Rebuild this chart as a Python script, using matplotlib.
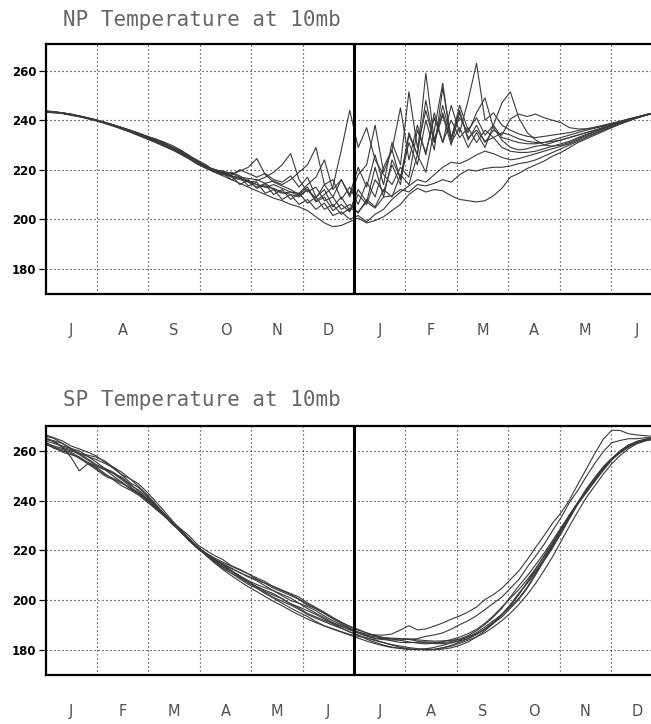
import matplotlib
matplotlib.use("Agg")
import matplotlib.pyplot as plt

# 5-day samples, year drawn as twelve equal months of 365/12 days
days = list(range(0, 365, 5))

np_months = ["J", "A", "S", "O", "N", "D", "J", "F", "M", "A", "M", "J"]
sp_months = ["J", "F", "M", "A", "M", "J", "J", "A", "S", "O", "N", "D"]
temp_ticks = [180, 200, 220, 240, 260]

# North Pole 10mb temperature (K), one list per year, starting 1 July
np_a = [243.8, 243.5, 243.0, 242.4, 241.6, 240.8, 240.0, 239.0, 238.1, 237.0, 235.8, 234.5, 233.2, 231.8, 230.5, 229.0, 227.3, 225.3, 223.2, 221.4,
        219.5, 218.5, 217.0, 216.0, 215.5, 214.0, 213.0, 212.5, 211.0, 210.0, 209.0, 212.0, 207.5, 210.0, 213.0, 228.0, 244.0, 229.0, 237.0, 224.0,
        218.0, 214.0, 221.0, 217.0, 236.0, 227.0, 241.0, 231.0, 240.0, 233.0, 237.0, 231.0, 236.0, 233.0, 235.0, 234.0, 232.5, 231.5, 231.0, 231.0,
        231.5, 232.0, 233.0, 234.0, 235.0, 236.0, 237.0, 238.0, 239.0, 240.0, 241.0, 242.0, 242.8]
np_b = [243.2, 243.0, 242.7, 242.0, 241.4, 240.6, 239.7, 238.7, 237.6, 236.4, 235.2, 233.8, 232.4, 231.0, 229.5, 228.0, 226.2, 224.3, 222.2, 220.5,
        219.0, 217.5, 216.0, 214.5, 213.0, 211.5, 210.0, 208.5, 207.5, 206.0, 205.0, 203.5, 201.0, 198.5, 197.0, 197.5, 199.0, 200.5, 198.5, 199.5,
        201.0, 203.5, 206.0, 210.0, 212.5, 211.0, 212.0, 211.5, 209.5, 208.0, 207.5, 207.0, 207.5, 209.5, 212.5, 217.0, 218.5, 220.5, 222.0, 223.5,
        225.5, 227.0, 229.0, 231.0, 232.5, 234.0, 235.5, 237.0, 238.5, 239.8, 241.0, 242.0, 243.0]
np_c = [243.6, 243.4, 242.9, 242.3, 241.6, 240.9, 240.1, 239.1, 238.0, 236.8, 235.5, 234.5, 233.5, 232.5, 231.0, 229.0, 227.2, 225.5, 223.3, 221.6,
        220.0, 219.0, 218.0, 219.5, 221.0, 224.5, 218.0, 215.0, 213.5, 212.0, 210.0, 213.0, 207.0, 209.0, 203.5, 206.0, 203.0, 210.0, 206.0, 216.0,
        211.0, 222.0, 214.0, 235.0, 226.0, 259.0, 232.0, 243.0, 232.0, 246.0, 236.0, 241.0, 234.0, 238.0, 233.0, 232.0, 231.0, 230.5, 230.5, 231.0,
        232.0, 233.0, 234.0, 235.0, 236.0, 236.8, 237.5, 238.5, 239.5, 240.5, 241.3, 242.2, 243.0]
np_d = [243.4, 243.2, 242.8, 242.3, 241.7, 240.9, 240.1, 239.2, 238.2, 237.1, 236.0, 234.7, 233.2, 231.6, 230.0, 228.5, 226.8, 224.8, 222.8, 221.2,
        219.8, 219.5, 218.5, 217.0, 216.5, 216.0, 214.5, 215.5, 214.0, 216.0, 219.0, 222.0, 229.0, 214.0, 216.0, 208.0, 213.0, 206.0, 215.0, 209.0,
        221.0, 228.0, 245.0, 224.0, 238.0, 226.0, 243.0, 231.0, 246.0, 235.0, 248.0, 263.0, 240.0, 243.0, 238.0, 236.0, 234.5, 233.5, 233.0, 233.5,
        234.0, 234.5, 235.0, 235.8, 236.5, 237.2, 238.0, 238.8, 239.6, 240.5, 241.3, 242.2, 243.0]
np_e = [243.7, 243.4, 243.0, 242.5, 241.8, 241.0, 240.2, 239.2, 238.0, 236.7, 235.4, 234.0, 232.8, 231.5, 230.3, 229.0, 227.6, 225.6, 223.6, 221.3,
        219.2, 218.0, 219.0, 217.5, 215.5, 214.0, 213.0, 214.0, 212.5, 211.0, 210.5, 214.0, 217.0, 224.0, 212.0, 216.0, 209.0, 218.0, 222.0, 238.0,
        219.0, 228.0, 216.0, 231.0, 222.0, 240.0, 228.0, 253.0, 233.0, 244.0, 232.0, 238.0, 231.0, 236.0, 234.0, 240.5, 242.5, 241.5, 242.5, 241.0,
        240.0, 239.0, 237.0, 236.5, 236.5, 237.0, 237.8, 238.6, 239.5, 240.4, 241.3, 242.2, 242.9]
np_f = [243.3, 243.1, 242.8, 242.2, 241.5, 240.7, 239.9, 238.9, 237.9, 236.9, 235.8, 234.6, 233.2, 232.3, 230.8, 229.0, 227.0, 224.8, 222.5, 221.0,
        220.2, 219.0, 217.5, 216.5, 215.0, 215.5, 217.0, 219.0, 222.0, 226.5, 216.0, 211.0, 213.0, 207.5, 209.0, 204.0, 206.0, 202.5, 208.0, 205.0,
        212.0, 209.0, 218.0, 214.0, 226.0, 219.0, 236.0, 255.0, 231.0, 237.0, 229.0, 235.0, 229.0, 238.0, 247.0, 251.5, 241.0, 235.0, 232.0, 230.0,
        229.5, 230.0, 231.0, 232.5, 234.0, 235.3, 236.5, 237.8, 239.0, 240.2, 241.2, 242.1, 243.0]
np_g = [243.5, 243.3, 242.9, 242.3, 241.6, 240.8, 240.0, 239.0, 238.0, 236.9, 235.6, 234.2, 232.8, 231.3, 229.8, 228.2, 226.5, 224.5, 222.4, 220.8,
        219.4, 218.0, 217.5, 214.0, 216.0, 212.5, 214.0, 210.0, 212.0, 208.0, 210.5, 206.5, 209.0, 204.0, 206.0, 202.0, 204.5, 203.0, 207.0, 204.5,
        209.0, 209.5, 212.0, 211.0, 214.0, 213.5, 214.5, 216.0, 215.0, 218.0, 220.0, 219.5, 220.5, 221.0, 221.0, 221.5, 222.5, 223.0, 224.0, 225.5,
        227.0, 228.5, 230.0, 231.5, 233.0, 234.5, 236.0, 237.3, 238.6, 239.8, 241.0, 242.0, 242.9]
np_h = [243.5, 243.3, 243.0, 242.4, 241.7, 240.9, 240.0, 239.1, 238.1, 237.0, 235.8, 234.6, 233.4, 232.4, 231.2, 229.8, 228.0, 225.8, 223.5, 221.5,
        219.6, 218.8, 217.5, 216.8, 215.0, 213.0, 214.5, 212.0, 210.5, 211.0, 209.5, 212.0, 208.5, 214.0, 209.0, 216.0, 210.0, 221.0, 213.0, 226.0,
        214.0, 231.0, 222.0, 251.5, 229.0, 244.0, 231.0, 246.0, 233.0, 241.0, 235.0, 243.0, 249.0, 237.0, 232.0, 229.0, 228.0, 228.5, 229.5, 230.0,
        231.0, 232.0, 233.0, 234.0, 235.0, 236.0, 237.0, 238.2, 239.3, 240.3, 241.3, 242.2, 243.1]
np_i = [243.4, 243.2, 242.8, 242.2, 241.5, 240.8, 240.0, 239.0, 237.9, 236.7, 235.5, 234.1, 232.7, 231.2, 229.7, 228.2, 226.6, 224.6, 222.6, 220.8,
        219.0, 218.5, 216.0, 217.0, 213.5, 215.0, 210.5, 212.0, 208.0, 210.0, 206.0, 208.0, 204.0, 206.5, 201.5, 203.0, 200.0, 201.5, 199.0, 202.0,
        204.0, 208.0, 211.0, 213.5, 216.0, 215.0, 218.0, 221.0, 223.0, 222.5, 224.0, 226.0, 227.5, 226.5, 225.0, 224.0, 224.5, 225.5, 226.5, 227.5,
        228.5, 229.5, 230.5, 232.0, 233.5, 234.8, 236.0, 237.2, 238.5, 239.7, 240.9, 242.0, 242.8]
np_j = [243.6, 243.3, 242.9, 242.3, 241.6, 240.8, 240.0, 239.1, 238.1, 237.1, 236.0, 234.9, 233.6, 232.1, 230.6, 229.2, 227.5, 225.6, 223.8, 222.0,
        219.4, 219.2, 218.0, 220.0, 218.5, 217.0, 218.5, 216.0, 215.0, 217.5, 213.0, 217.0, 209.0, 212.0, 205.0, 209.0, 203.5, 212.0, 207.0, 221.0,
        209.0, 224.0, 217.0, 234.0, 226.0, 248.0, 231.0, 242.0, 230.0, 243.0, 233.0, 236.0, 231.5, 233.0, 229.0, 227.5, 227.0, 227.0, 227.5, 228.5,
        229.5, 230.5, 231.5, 233.0, 234.3, 235.5, 236.7, 237.8, 239.0, 240.0, 241.1, 242.1, 243.0]

# South Pole 10mb temperature (K), one list per year, starting 1 January
sp_a = [266.5, 265.3, 264.0, 262.0, 260.8, 259.5, 258.0, 255.5, 253.0, 250.5, 248.8, 246.8, 243.5, 239.8, 236.0, 232.0, 228.2, 224.9, 221.3, 218.8,
        216.5, 214.8, 212.9, 211.1, 209.4, 207.8, 205.8, 203.8, 202.4, 200.9, 198.8, 196.7, 194.8, 193.0, 191.1, 189.7, 188.1, 186.8, 185.6, 184.6,
        184.2, 184.0, 184.1, 184.3, 183.6, 183.0, 182.6, 182.6, 182.9, 183.7, 184.6, 186.3, 188.5, 190.8, 193.3, 196.8, 200.3, 204.8, 210.3, 216.0,
        221.5, 226.7, 232.8, 238.7, 243.5, 248.0, 252.7, 256.5, 259.7, 262.2, 263.9, 264.8, 265.4]
sp_b = [265.0, 264.0, 261.5, 257.5, 252.0, 254.8, 253.5, 251.0, 248.5, 246.0, 244.3, 242.3, 239.5, 236.8, 234.0, 231.0, 228.0, 224.4, 221.0, 218.0,
        215.2, 212.8, 210.9, 209.1, 207.1, 205.0, 203.0, 201.1, 199.6, 198.1, 196.3, 194.3, 192.8, 191.4, 190.0, 188.7, 187.3, 186.0, 184.4, 183.1,
        182.0, 181.2, 180.6, 180.3, 180.3, 180.0, 180.3, 180.9, 181.9, 183.2, 184.6, 186.3, 188.5, 191.3, 194.3, 198.0, 202.3, 207.1, 211.8, 216.5,
        222.0, 228.2, 234.3, 239.5, 244.3, 248.5, 252.9, 256.8, 260.0, 261.9, 263.2, 264.3, 265.0]
sp_c = [263.0, 262.0, 261.0, 260.0, 259.0, 257.8, 256.5, 255.0, 253.5, 250.5, 247.3, 245.3, 242.0, 238.3, 235.0, 231.0, 227.4, 223.9, 220.8, 218.2,
        216.0, 214.3, 212.7, 211.1, 209.6, 208.3, 206.8, 204.8, 203.4, 201.9, 200.3, 198.0, 196.6, 194.7, 192.6, 190.7, 188.8, 187.3, 186.4, 186.1,
        186.0, 186.5, 188.1, 189.8, 188.1, 188.5, 189.6, 190.9, 192.4, 193.7, 195.3, 197.3, 200.3, 202.3, 204.8, 208.3, 211.8, 216.3, 221.3, 226.0,
        231.0, 235.2, 240.3, 246.7, 252.8, 259.0, 264.7, 268.3, 268.2, 266.9, 266.4, 266.1, 265.8]
sp_d = [264.5, 264.0, 263.0, 261.0, 259.0, 258.3, 257.5, 256.0, 253.5, 251.5, 248.8, 245.8, 242.5, 238.8, 235.0, 231.5, 227.7, 223.9, 220.8, 218.5,
        216.3, 214.3, 212.0, 209.6, 207.9, 206.3, 205.0, 203.8, 201.8, 199.9, 198.8, 197.5, 195.8, 193.7, 191.8, 190.2, 188.6, 187.1, 185.9, 184.8,
        184.5, 184.5, 184.6, 184.3, 184.6, 185.5, 186.1, 186.9, 188.4, 190.2, 191.8, 193.8, 196.3, 198.8, 201.3, 204.8, 208.3, 213.3, 217.8, 222.5,
        228.0, 233.2, 239.3, 244.2, 249.8, 255.0, 259.7, 263.3, 264.2, 264.9, 264.9, 265.3, 265.3]
sp_e = [263.0, 261.0, 260.0, 259.0, 257.0, 254.8, 252.5, 250.0, 248.5, 247.0, 245.3, 243.3, 241.0, 238.3, 234.8, 231.0, 227.4, 224.4, 221.6, 218.5,
        215.7, 213.3, 210.9, 208.6, 206.4, 204.8, 202.7, 200.8, 198.8, 196.9, 195.1, 193.5, 191.5, 189.7, 188.4, 187.2, 186.0, 184.8, 183.6, 182.6,
        181.7, 181.0, 180.8, 180.3, 180.3, 180.5, 180.3, 180.9, 181.6, 182.7, 184.0, 185.3, 187.0, 189.3, 191.8, 194.8, 198.3, 202.3, 206.8, 212.0,
        217.5, 223.7, 229.8, 235.7, 241.3, 246.0, 250.7, 254.8, 258.2, 260.9, 262.9, 264.0, 264.8]
sp_f = [264.0, 263.0, 262.0, 261.0, 260.0, 257.8, 255.5, 253.0, 251.0, 249.5, 246.8, 243.8, 240.5, 237.3, 234.5, 231.3, 228.2, 224.7, 221.3, 219.0,
        217.0, 215.3, 213.7, 212.1, 210.6, 209.0, 207.5, 205.3, 203.9, 202.4, 200.5, 198.5, 196.6, 194.7, 192.9, 191.2, 189.3, 188.0, 186.9, 185.9,
        185.0, 184.5, 183.9, 183.3, 182.8, 182.5, 182.8, 183.4, 184.2, 185.2, 186.6, 188.3, 190.8, 193.8, 197.3, 200.8, 204.3, 208.3, 212.8, 217.5,
        222.5, 227.7, 233.5, 239.2, 244.3, 249.3, 253.7, 257.1, 259.7, 261.6, 263.4, 264.5, 264.8]
sp_g = [265.5, 263.5, 261.5, 260.5, 258.5, 256.3, 254.0, 252.5, 251.0, 248.5, 245.8, 242.8, 240.0, 237.3, 234.5, 231.5, 228.7, 225.9, 222.3, 220.0,
        218.0, 216.3, 213.9, 212.4, 210.6, 208.4, 206.8, 205.6, 204.1, 202.7, 201.3, 199.0, 197.1, 195.2, 193.1, 191.2, 189.6, 188.3, 186.9, 185.6,
        184.5, 183.7, 183.1, 183.0, 183.1, 183.3, 183.1, 183.1, 183.4, 184.4, 185.8, 187.8, 190.3, 193.3, 196.8, 201.3, 205.8, 209.8, 214.3, 219.0,
        224.0, 229.2, 234.3, 239.2, 243.8, 248.2, 252.7, 256.8, 260.0, 262.4, 263.7, 264.3, 265.0]
sp_h = [263.5, 261.5, 259.5, 258.5, 257.5, 255.3, 253.0, 250.5, 249.0, 247.5, 244.8, 242.8, 240.5, 237.8, 234.2, 230.5, 227.7, 224.7, 221.3, 218.0,
        215.0, 212.3, 209.9, 207.6, 205.4, 203.5, 201.5, 199.5, 197.8, 195.9, 194.1, 192.5, 191.0, 189.7, 188.6, 187.4, 186.3, 185.5, 184.9, 184.1,
        183.0, 182.0, 181.1, 180.5, 180.1, 180.5, 181.1, 181.9, 182.9, 183.9, 185.3, 187.0, 189.3, 191.8, 194.3, 197.3, 200.8, 205.3, 210.8, 216.5,
        222.5, 228.7, 234.1, 238.7, 243.3, 247.8, 252.2, 256.3, 259.7, 262.2, 263.6, 264.3, 264.6]
sp_i = [266.0, 265.0, 263.0, 261.0, 259.0, 256.8, 254.5, 253.0, 251.5, 249.0, 246.3, 244.3, 241.5, 237.8, 234.0, 230.7, 227.7, 224.4, 221.6, 218.5,
        215.7, 213.5, 211.7, 209.9, 207.6, 205.5, 203.5, 202.0, 200.6, 198.6, 196.8, 194.7, 193.3, 191.9, 190.6, 189.5, 188.3, 187.1, 185.9, 185.4,
        185.0, 184.8, 184.6, 184.5, 184.1, 183.8, 183.6, 183.7, 183.9, 184.4, 185.3, 186.5, 188.3, 190.8, 194.0, 197.8, 202.3, 207.3, 212.6, 218.0,
        223.3, 228.5, 233.8, 238.9, 243.8, 248.7, 253.2, 256.8, 260.0, 262.4, 263.7, 264.5, 264.8]
sp_j = [262.5, 261.5, 260.5, 259.5, 257.5, 255.3, 254.0, 252.5, 250.0, 247.5, 244.8, 242.8, 240.5, 236.8, 234.0, 231.0, 228.2, 224.7, 221.3, 218.8,
        216.5, 214.1, 211.7, 209.3, 207.1, 205.5, 204.0, 202.6, 200.6, 198.6, 197.3, 195.8, 194.3, 192.5, 190.6, 188.9, 187.3, 186.0, 184.9, 183.8,
        183.0, 182.2, 181.6, 181.0, 180.6, 180.2, 180.1, 180.4, 180.9, 181.9, 183.3, 185.3, 187.8, 190.8, 194.3, 198.3, 202.8, 206.8, 211.3, 216.0,
        221.0, 227.2, 233.3, 239.2, 244.8, 249.3, 253.2, 256.5, 259.2, 261.6, 263.4, 264.3, 265.0]

np_lines = [np_a, np_b, np_c, np_d, np_e, np_f, np_g, np_h, np_i, np_j]
sp_lines = [sp_a, sp_b, sp_c, sp_d, sp_e, sp_f, sp_g, sp_h, sp_i, sp_j]

month_len = 365 / 12


def draw_panel(ax, lines, months, ytop):
    for vals in lines:
        ax.plot(days, vals, color="#3a3a3a", lw=0.8, solid_joinstyle="round")

    ax.set_xlim(0, 365)
    ax.set_ylim(170, ytop)

    # month boundaries carry the grid, month names sit in between
    ax.set_xticks([month_len * k for k in range(1, 12)])
    ax.set_xticklabels([])
    ax.set_xticks([month_len * (k + 0.5) for k in range(12)], minor=True)
    ax.set_xticklabels(months, minor=True)
    ax.tick_params(axis="x", which="both", length=0)
    ax.tick_params(axis="x", which="minor", pad=21, labelsize=10.5,
                   labelcolor="#505050")

    ax.set_yticks(temp_ticks)
    ax.tick_params(axis="y", length=5, width=0.9, pad=1.5, labelsize=8.5,
                   direction="out")
    for lab in ax.get_yticklabels():
        lab.set_fontweight("bold")

    ax.grid(True, which="major", color="#1a1a1a", linestyle=(0, (1, 2.6)),
            linewidth=0.8)
    ax.axvline(6 * month_len, color="black", lw=2.2)
    for sp in ax.spines.values():
        sp.set_linewidth(1.6)


fig = plt.figure(figsize=(6.51, 7.24), dpi=100)

# axes run a little past the right edge of the figure
ax_np = fig.add_axes([0.0699, 0.5946, 0.9477, 0.3453])
ax_sp = fig.add_axes([0.0699, 0.0677, 0.9477, 0.3439])

draw_panel(ax_np, np_lines, np_months, 271)
draw_panel(ax_sp, sp_lines, sp_months, 270)

fig.text(63 / 651, 1 - 20 / 724, "NP Temperature at 10mb", ha="left",
         va="center", family="DejaVu Sans Mono", size=15, color="#666666")
fig.text(63 / 651, 1 - 400 / 724, "SP Temperature at 10mb", ha="left",
         va="center", family="DejaVu Sans Mono", size=15, color="#666666")

fig.savefig("out.png", dpi=100)
